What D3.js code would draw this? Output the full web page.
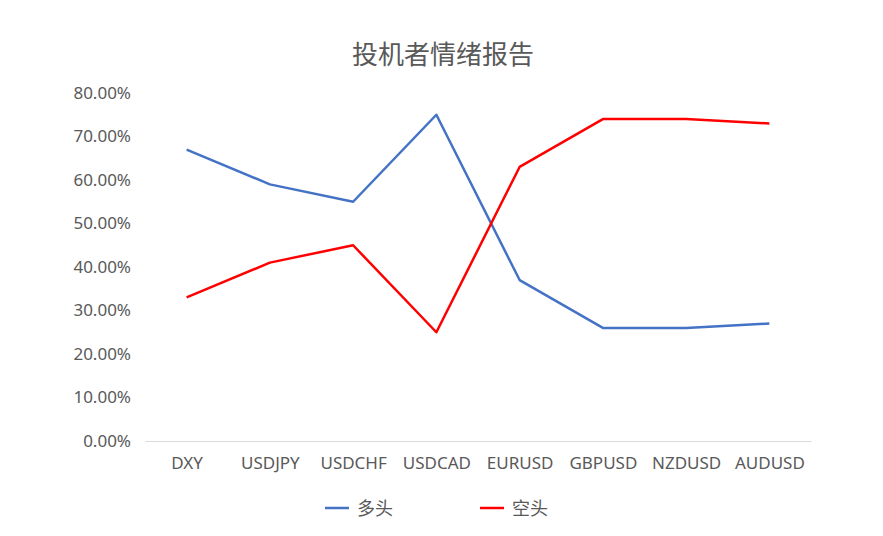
<!DOCTYPE html>
<html>
<head>
<meta charset="utf-8">
<script src="https://cdn.jsdelivr.net/npm/d3@7"></script>
<style>
  body { margin: 0; background: #fff; }
  text { font-family: "Noto Sans", "Noto Sans CJK SC", sans-serif; }
</style>
</head>
<body>
<div id="chart"></div>
<script>
// Categories and series
const pairs = ["DXY", "USDJPY", "USDCHF", "USDCAD", "EURUSD", "GBPUSD", "NZDUSD", "AUDUSD"];
const longPct = [0.67, 0.59, 0.55, 0.75, 0.37, 0.26, 0.26, 0.27];
const shortPct = [0.33, 0.41, 0.45, 0.25, 0.63, 0.74, 0.74, 0.73];
const yTicks = [0, 0.1, 0.2, 0.3, 0.4, 0.5, 0.6, 0.7, 0.8];
const seriesNames = ["多头", "空头"];
const seriesColors = ["#4472C4", "#FF0000"];

const width = 883, height = 536;
const margin = { top: 93, right: 72, bottom: 95, left: 145 };

const svg = d3.select("#chart").append("svg")
  .attr("width", width)
  .attr("height", height);

const x = d3.scalePoint()
  .domain(pairs)
  .range([margin.left, width - margin.right])
  .padding(0.5);

const y = d3.scaleLinear()
  .domain([0, 0.8])
  .range([height - margin.bottom, margin.top]);

// Title
svg.append("text")
  .attr("x", 443)
  .attr("y", 64)
  .attr("text-anchor", "middle")
  .attr("font-family", "Noto Sans CJK SC")
  .attr("font-size", "26px")
  .attr("fill", "#595959")
  .text("投机者情绪报告");

// Y axis labels (no line)
const yAxis = svg.append("g")
  .attr("transform", `translate(${margin.left - 14},0)`)
  .call(d3.axisLeft(y).tickValues(yTicks).tickFormat(d => (d * 100).toFixed(2) + "%").tickSize(0));
yAxis.select(".domain").remove();
yAxis.selectAll("text")
  .attr("font-size", "17px")
  .attr("fill", "#595959")
  .attr("x", 0);

// X axis
const xAxis = svg.append("g")
  .attr("transform", `translate(0,${height - margin.bottom})`)
  .call(d3.axisBottom(x).tickSize(0).tickPadding(16));
xAxis.select(".domain").attr("stroke", "#D9D9D9").attr("stroke-width", 1);
xAxis.selectAll("text")
  .attr("font-size", "17px")
  .attr("fill", "#595959");

// Lines
const line = d3.line()
  .x((d, i) => x(pairs[i]))
  .y(d => y(d));

[longPct, shortPct].forEach((series, k) => {
  svg.append("path")
    .datum(series)
    .attr("fill", "none")
    .attr("stroke", seriesColors[k])
    .attr("stroke-width", 2.5)
    .attr("stroke-linejoin", "round")
    .attr("d", line);
});

// Legend
const legendX = [325, 480];
seriesNames.forEach((name, k) => {
  const g = svg.append("g").attr("transform", `translate(${legendX[k]},508)`);
  g.append("line")
    .attr("x1", 0).attr("x2", 24)
    .attr("stroke", seriesColors[k])
    .attr("stroke-width", 2.5);
  g.append("text")
    .attr("x", 32)
    .attr("y", 7)
    .attr("font-family", "Noto Sans CJK SC")
    .attr("font-size", "18px")
    .attr("fill", "#595959")
    .text(name);
});
</script>
</body>
</html>
